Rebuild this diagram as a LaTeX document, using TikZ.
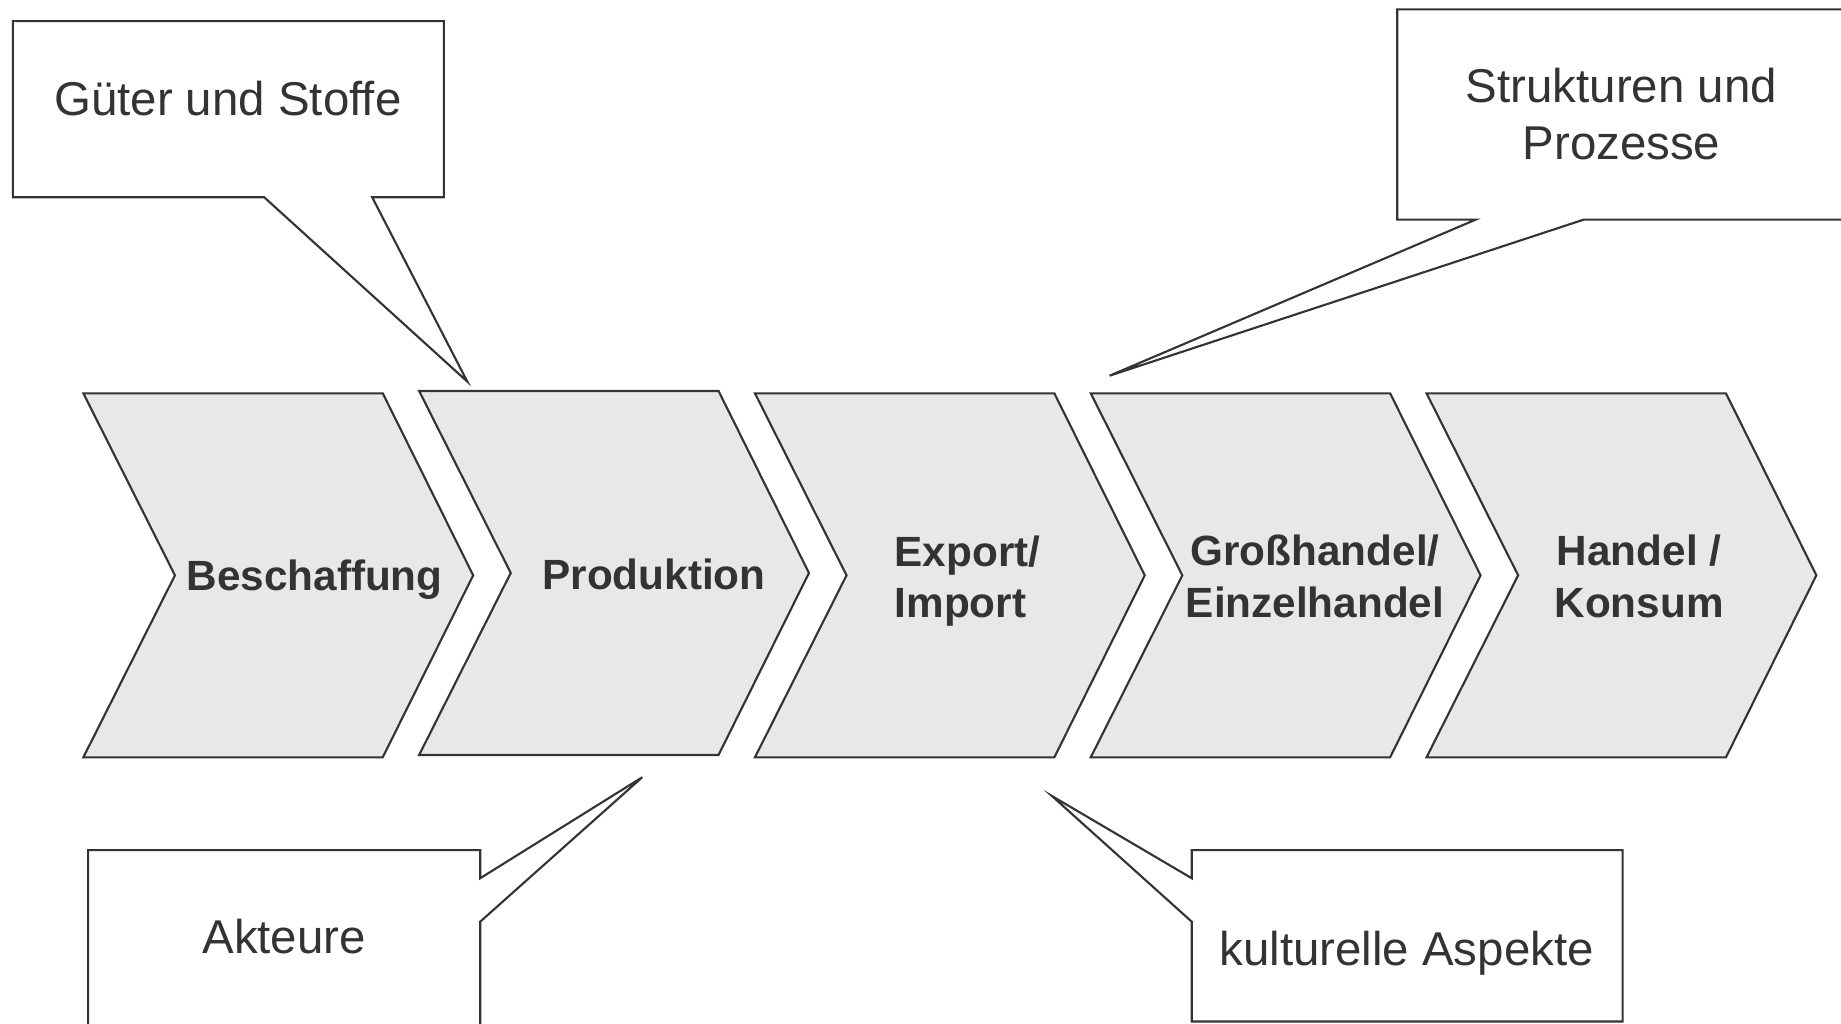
\documentclass[tikz,border=0pt]{standalone}
\usepackage{fontspec}
\setmainfont{Liberation Sans}
\definecolor{stagegray}{HTML}{E8E8E8}
\definecolor{linegray}{HTML}{333333}
\tikzset{
	stage/.style={fill=stagegray,draw=linegray,line width=0.9pt},
	callout/.style={fill=white,draw=linegray,line width=0.9pt},
	stagetext/.style={font=\fontsize{18}{22}\selectfont\bfseries,text=linegray,align=center},
	notetext/.style={font=\fontsize{20.2}{24}\selectfont,text=linegray,align=center}
}
\begin{document}
\begin{tikzpicture}[x=0.5pt,y=-0.5pt]
		\useasboundingbox (0,0) rectangle (1568,872);
		
		% Kette
		\foreach \x/\y in {71/335,357/333,643/335,929/335,1215/335}
			\draw[stage] (\x,\y) -- ++(255,0) -- ++(77,155) -- ++(-77,155) -- ++(-255,0) -- ++(78,-155) -- cycle;
		
		\node[stagetext] (beschaffung) at (268,494) {Beschaffung};
		\node[stagetext] (produktion) at (557,489) {Produktion};
		\node[stagetext,align=left] (export) at (824,495) {Export/\\Import};
		\node[stagetext] (grosshandel) at (1120,491) {Großhandel/\\Einzelhandel};
		\node[stagetext] (konsum) at (1396,491) {Handel /\\Konsum};
		
		% Sprechblasen
		\draw[callout] (11,18) -- (378,18) -- (378,168) -- (317,168) -- (398,325) -- (225,168) -- (11,168) -- cycle;
		\node[notetext] (gueter) at (194,84) {Güter und Stoffe};
		
		\draw[callout] (1570,187) -- (1349,187) -- (945,320) -- (1257,187) -- (1190,187) -- (1190,8) -- (1570,8);
		\node[notetext] (strukturen) at (1381,97) {Strukturen und\\Prozesse};
		
		\draw[callout] (75,874) -- (75,724) -- (409,724) -- (409,748) -- (547,662) -- (409,785) -- (409,874);
		\node[notetext] (akteure) at (242,798) {Akteure};
		
		\draw[callout] (1015,748) -- (1015,724) -- (1382,724) -- (1382,870) -- (1015,870) -- (1015,785) -- (896,678) -- cycle;
		\node[notetext] (kultur) at (1198,812) {kulturelle Aspekte};
\end{tikzpicture}
\end{document}
